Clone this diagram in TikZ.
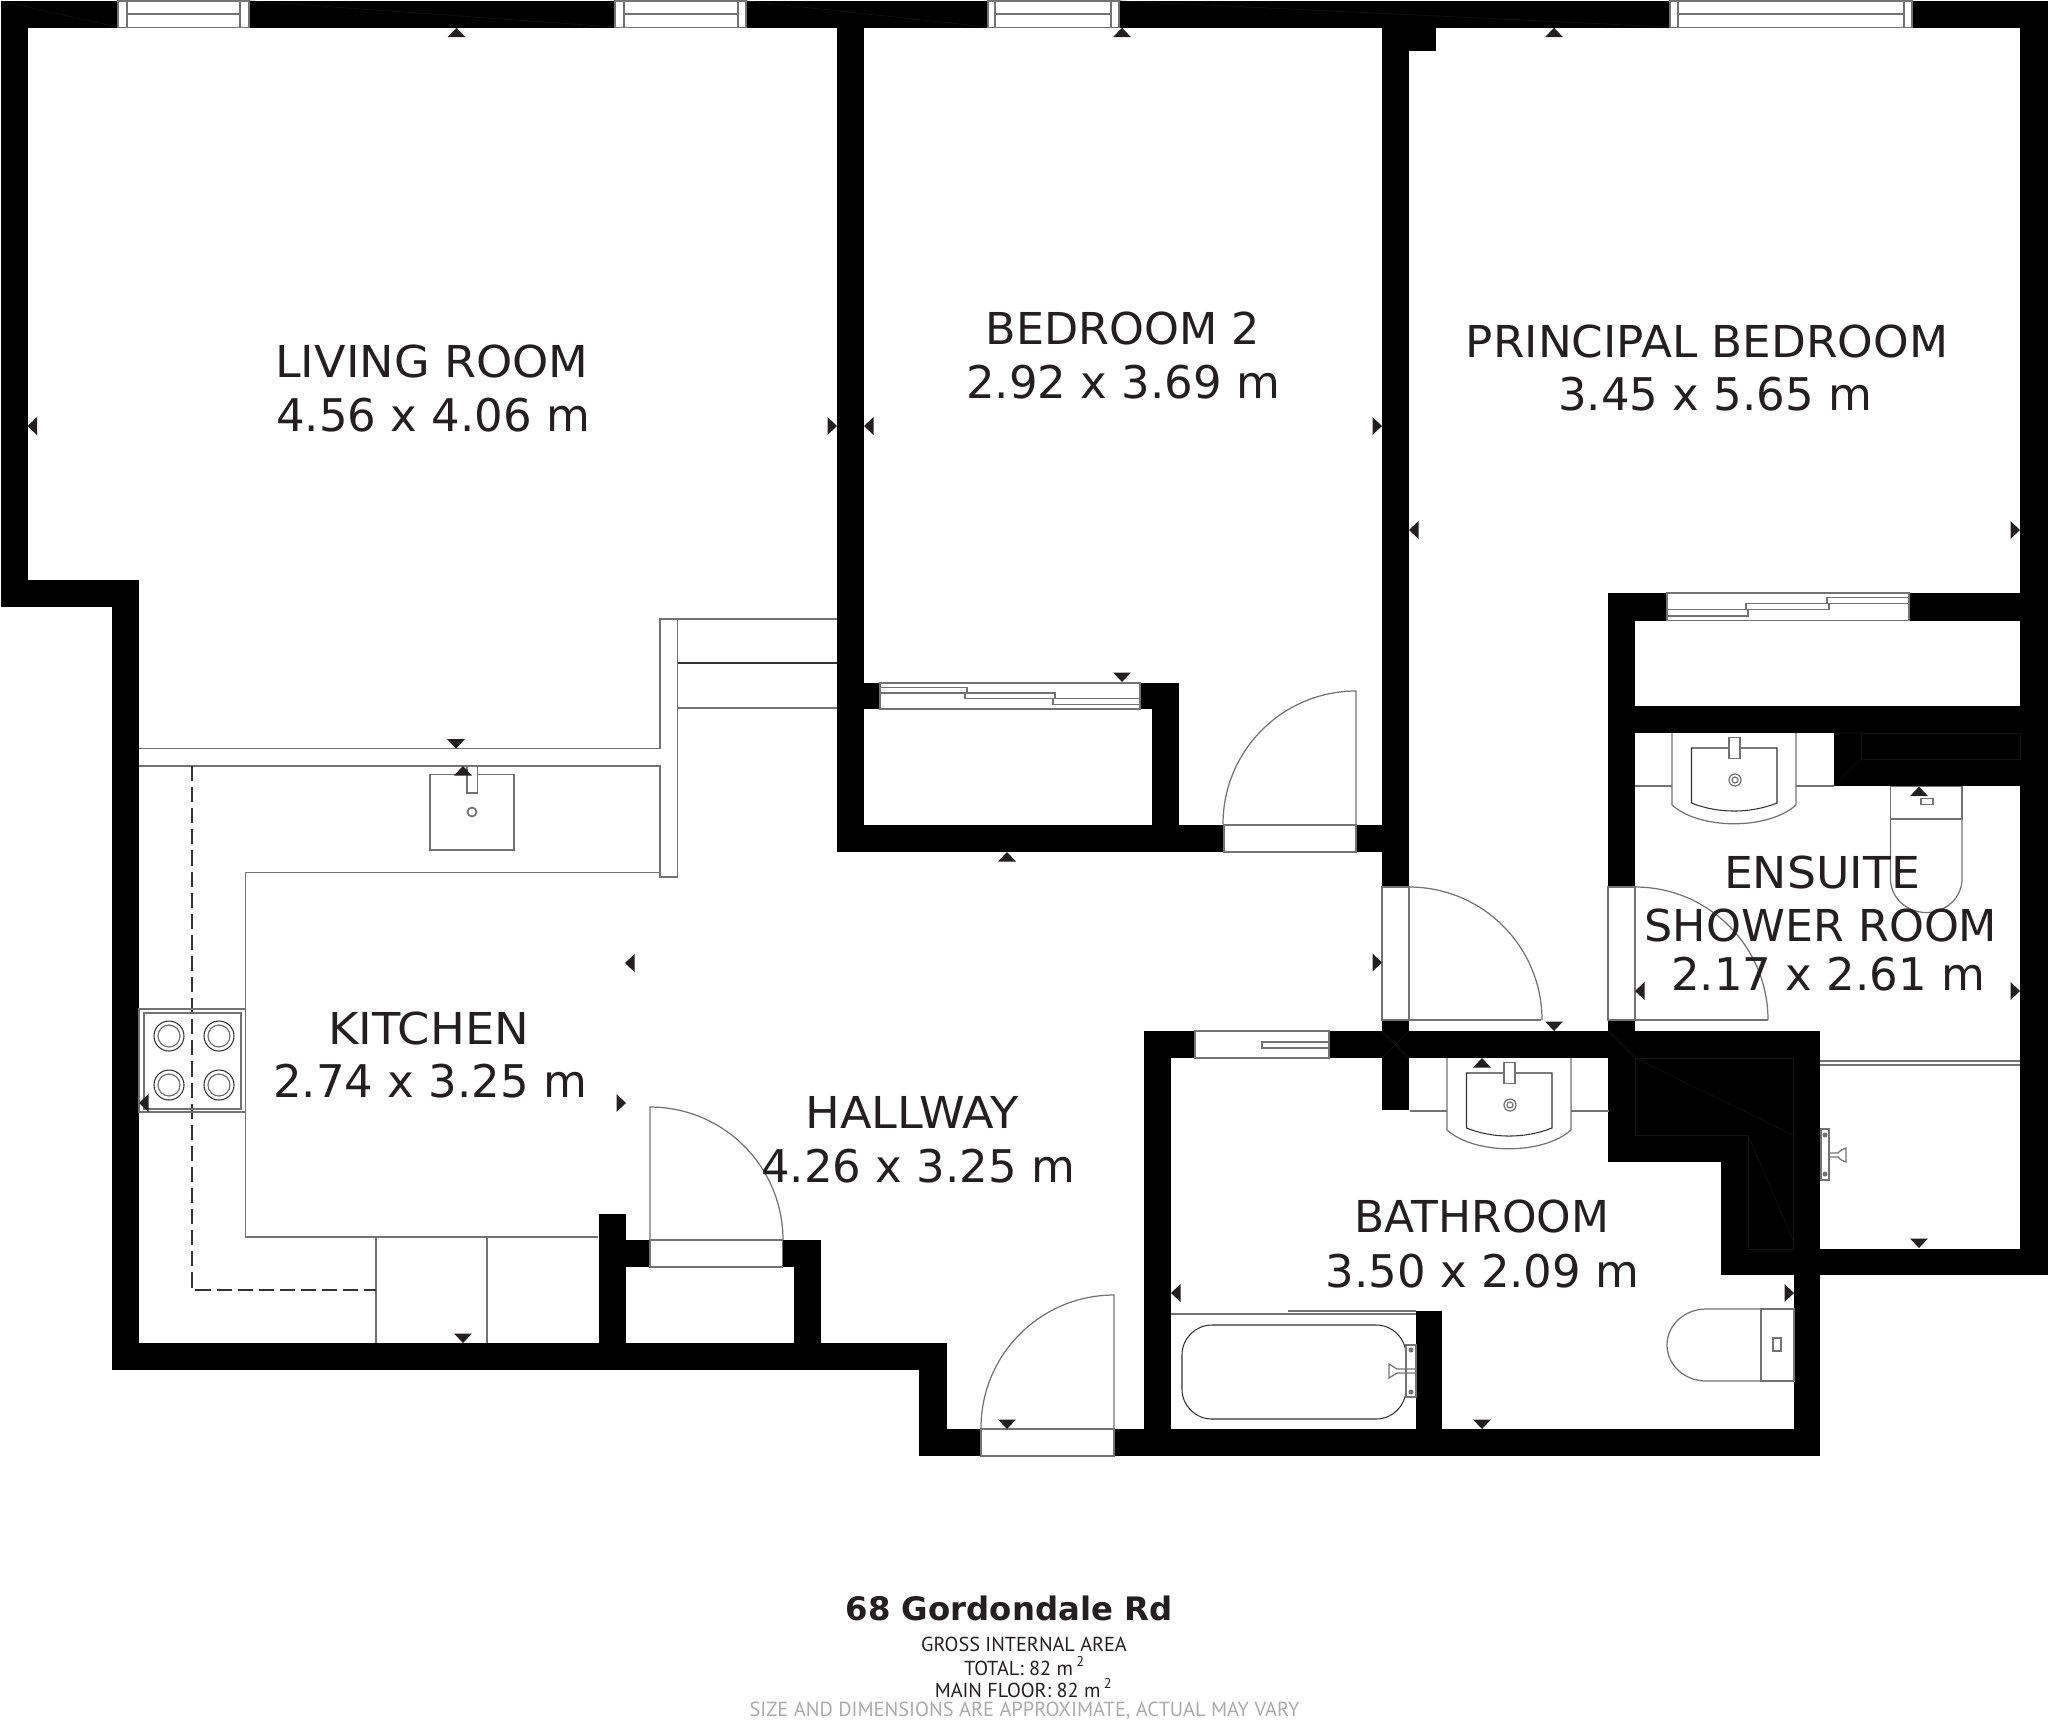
\documentclass[tikz,border=0pt]{standalone}
\usepackage{graphicx}
\usepackage{fontspec}
\setmainfont{DejaVu Sans}
\newfontfamily\notefont{PT Sans}
\definecolor{inkcol}{HTML}{231F20}
\definecolor{notecol}{HTML}{ABABAB}
\tikzset{
	wall/.style={fill=black},
	facet/.style={black!93!white, line width=0.2pt},
	fitting/.style={black!55!white, line width=0.35pt},
	fine/.style={black!80!white, line width=0.3pt},
	opening/.style={fill=white, draw=black!55!white, line width=0.35pt},
	marker/.style={fill=inkcol},
	roomtext/.style={anchor=base, inkcol, inner sep=0pt, font=\fontsize{12.5}{15}\selectfont},
	roomsize/.style={roomtext, font=\fontsize{12.8}{15}\selectfont},
	footnote/.style={anchor=base, inkcol, inner sep=0pt, font=\notefont\fontsize{5.75}{7}\selectfont}
}
\begin{document}
\begin{tikzpicture}[x=0.01cm,y=-0.01cm]
	\useasboundingbox (0,0) rectangle (2048,1720);

	% outer walls
	\fill[wall] (1,1) rectangle (2048,27.7);
	\fill[wall] (1,1) rectangle (27.5,607);
	\fill[wall] (1,580) rectangle (139,607);
	\fill[wall] (112,580) rectangle (139,1370);
	\fill[wall] (112,1343) rectangle (947,1370);
	\fill[wall] (919,1343) rectangle (947,1456);
	\fill[wall] (919,1429) rectangle (1820,1456);
	\fill[wall] (2020,1) rectangle (2048,1275);
	\fill[wall] (1820,1249) rectangle (2048,1275);

	% inner walls
	\fill[wall] (837,1) rectangle (864,852);
	\fill[wall] (837,825) rectangle (1382,852);
	\fill[wall] (864,683) rectangle (1179,709);
	\fill[wall] (1152,683) rectangle (1179,852);
	\fill[wall] (1382,1) rectangle (1409,887);
	\fill[wall] (1382,1020) rectangle (1409,1110);
	\fill[wall] (1409,27) rectangle (1436,51);
	\fill[wall] (1608,593) rectangle (2048,620.5);
	\fill[wall] (1608,593) rectangle (1635,887);
	\fill[wall] (1608,1020) rectangle (1635,1162);
	\fill[wall] (1635,706) rectangle (2020,733);
	\fill[wall] (1834,733) rectangle (2020,786);
	\fill[wall] (1144,1031) rectangle (1820,1058);
	\fill[wall] (1144,1031) rectangle (1171,1429);
	\fill[wall] (1608,1031) rectangle (1820,1162);
	\fill[wall] (1721,1031) rectangle (1820,1275);
	\fill[wall] (1794,1275) rectangle (1820,1456);
	\fill[wall] (1416,1311) rectangle (1442,1429);
	\fill[wall] (598.5,1214) rectangle (625.5,1343);
	\fill[wall] (625,1240) rectangle (650,1267);
	\fill[wall] (782,1240) rectangle (821,1267);
	\fill[wall] (794,1267) rectangle (821,1343);

	% faint seams in the black
	\draw[facet] (1635,1058) -- (1793,1058) -- (1793,1249) (1635,1058) -- (1635,1135) -- (1748,1135) -- (1748,1249) -- (1793,1249);
	\draw[facet] (1635,1058) -- (1793,1135) (1748,1135) -- (1793,1240);
	\draw[facet] (1861,733) rectangle (2020,759);
	\draw[facet] (1834,733) -- (1861,733) (1834,786) -- (1861,759);
	\draw[facet] (1382,1031) -- (1409,1058) (1409,1031) -- (1382,1058) (1608,1031) -- (1635,1058);
	\draw[facet] (1,1) -- (118,27) (250,1) -- (615,27) (746,1) -- (988,27) (1120,1) -- (1670,27);

	% windows
	\foreach \xa/\xb/\xc/\xd in {118/127/240/249, 615/624/738/746, 988/995/1111/1119, 1670/1678/1904/1912} {
		\draw[opening] (\xa,1) rectangle (\xd,27.7);
		\draw[fitting] (\xb,1) -- (\xb,27.7) (\xc,1) -- (\xc,27.7) (\xb,14) -- (\xc,14);
	}

	% sliding doors
	\draw[opening] (880,683) rectangle (1140,709);
	\draw[fitting] (880,687.3) rectangle (967,693);
	\draw[fitting] (965,693) rectangle (1055,698.7);
	\draw[fitting] (1053,698.7) rectangle (1140,704.3);
	\draw[opening] (1667,593) rectangle (1909,620.5);
	\draw[fitting] (1667,609.7) rectangle (1748,616);
	\draw[fitting] (1746,603.5) rectangle (1829,609.7);
	\draw[fitting] (1827,597.3) rectangle (1909,603.5);
	\draw[opening] (1195,1031) rectangle (1329,1058);
	\draw[fitting] (1262,1042) rectangle (1329,1048);

	% door frames and swings
	\draw[opening] (981,1429) rectangle (1114,1456);
	\draw[opening] (1224,825) rectangle (1356,852);
	\draw[opening] (650,1240) rectangle (782.7,1267);
	\draw[opening] (1382,887) rectangle (1409,1020);
	\draw[opening] (1608,887) rectangle (1635,1020);
	\draw[fitting] (1114,1429) -- (1114,1295) arc[start angle=270, end angle=180, radius=133];
	\draw[fitting] (1356,825) -- (1356,691) arc[start angle=270, end angle=180, radius=133];
	\draw[fitting] (650,1240) -- (650,1107) arc[start angle=270, end angle=360, radius=133];
	\draw[fitting] (1541,1020) -- (1409,1020);
	\draw[fitting] (1409,887) arc[start angle=270, end angle=360, radius=133];
	\draw[fitting] (1768,1020) -- (1635,1020);
	\draw[fitting] (1635,887) arc[start angle=270, end angle=360, radius=133];

	% half wall by the living room
	\draw[fitting] (837,619) -- (660,619) -- (660,748.5) -- (139,748.5);
	\draw[fitting] (139,766) -- (660,766) -- (660,877) -- (677.5,877) -- (677.5,619);
	\draw[fine] (677.5,663) -- (837,663);
	\draw[fitting] (677.5,708) -- (837,708);

	% kitchen units
	\draw[fitting] (660,872.5) -- (245.5,872.5) -- (245.5,1237) -- (598,1237);
	\draw[fitting] (376,1237) -- (376,1343) (487,1237) -- (487,1343);
	\draw[fine, dash pattern=on 4.3pt off 1.7pt] (192,766) -- (192,1290) -- (376,1290);
	\draw[fitting] (430,774.5) rectangle (514,850);
	\draw[fitting, fill=white] (467,766) rectangle (477.5,793);
	\draw[fitting, line width=0.5pt] (472,812) circle (4.5);
	\draw[fitting] (139,1009) rectangle (245.5,1112);
	\draw[fitting] (144,1013) rectangle (241,1109);
	\foreach \xa in {169,219}
		\foreach \ya in {1036,1085} {
			\draw[fine] (\xa,\ya) circle (15);
			\draw[fitting] (\xa,\ya) circle (11);
		}

	% basins
	\foreach \dx/\dy in {0/0,-225/325} {
		\begin{scope}[shift={(\dx,\dy)}]
			\draw[fitting] (1635,786) -- (1672,786) (1796,786) -- (1834,786);
			\draw[fitting] (1672,733) -- (1672,805) .. controls (1700,830) and (1768,830) .. (1796,805) -- (1796,733);
			\draw[fine] (1691.5,748) -- (1777,748) -- (1777,803) .. controls (1750,813.7) and (1718,813.7) .. (1691.5,803) -- cycle;
			\draw[fitting, fill=white] (1729,737.5) rectangle (1740,758.5);
			\draw[fitting] (1735,780) circle (6);
			\draw[fitting] (1735,780) circle (3);
		\end{scope}
	}

	% toilets
	\draw[fitting] (1890.5,786.6) rectangle (1962,819);
	\draw[fitting] (1921,798.6) rectangle (1933,804.5);
	\draw[fitting] (1890.5,819) -- (1890.5,879) arc[start angle=180, end angle=0, x radius=35.75, y radius=33.5] -- (1962,819);
	\draw[fitting] (1761,1309) rectangle (1794,1381);
	\draw[fitting] (1773,1338) rectangle (1781,1351);
	\draw[fitting] (1761,1309) -- (1706,1309) arc[start angle=270, end angle=90, x radius=39, y radius=36] -- (1761,1381);

	% bath and shower
	\draw[fitting] (1171,1314) -- (1416,1314) (1288,1311) -- (1416,1311);
	\draw[fine, rounded corners=8.5pt] (1182,1325) rectangle (1406,1419);
	\draw[fitting] (1406,1345) rectangle (1416,1397);
	\fill[fitting] (1411,1350) circle (2.5) (1411,1392) circle (2.5);
	\draw[fitting] (1416,1369) -- (1397,1369) .. controls (1393,1367) .. (1389,1364) -- (1389,1378) .. controls (1393,1375) .. (1397,1373) -- (1416,1373);
	\draw[fitting] (1820,1061) -- (2020,1061) (1820,1065) -- (2020,1065);
	\draw[fitting] (1821,1129) rectangle (1829,1180);
	\fill[fitting] (1825,1135) circle (2.5) (1825,1174) circle (2.5);
	\draw[fitting] (1829,1153) -- (1838,1153) .. controls (1841,1150) .. (1846,1148) -- (1846,1162) .. controls (1841,1160) .. (1838,1157) -- (1829,1157);

	% measuring marks
	\foreach \xa/\ya/\ang in {
		456.5/27.7/0, 1122/27.7/0, 1554/27.7/0, 463/766/0, 1007/852/0, 1482/1058/0, 1919/786.6/0,
		1122/682/180, 456/748.5/180, 463/1343/180, 1007/1429/180, 1554/1031/180, 1482/1429/180, 1919/1248/180,
		27.5/426/90, 864/426/90, 1409/530/90, 625/963/90, 139/1103/90, 1171/1293/90, 1635/991/90,
		837/426/-90, 1382/426/-90, 2020/530/-90, 626/1103/-90, 1382/962.5/-90, 1794/1293/-90, 2020/991/-90}
		\fill[marker, shift={(\xa,\ya)}, rotate=\ang] (0,0) -- (-9,9.5) -- (9,9.5) -- cycle;

	% room names
	\node[roomtext] (livingname) at (432,377) {\scalebox{1.048}[1]{LIVING ROOM}};
	\node[roomsize] (livingsize) at (433,431) {4.56 x 4.06 m};
	\node[roomtext] (bedtwoname) at (1123,344) {\scalebox{1.01}[1]{BEDROOM 2}};
	\node[roomsize] (bedtwosize) at (1123,398.5) {2.92 x 3.69 m};
	\node[roomtext] (bedonename) at (1707,357) {\scalebox{1.03}[1]{PRINCIPAL BEDROOM}};
	\node[roomsize] (bedonesize) at (1715,410) {3.45 x 5.65 m};
	\node[roomtext] (kitchenname) at (428.6,1044) {\scalebox{1.055}[1]{KITCHEN}};
	\node[roomsize] (kitchensize) at (430,1097.5) {2.74 x 3.25 m};
	\node[roomtext] (hallname) at (912,1128) {\scalebox{1.05}[1]{HALLWAY}};
	\node[roomsize] (hallsize) at (918,1182.5) {4.26 x 3.25 m};
	\node[roomtext] (bathname) at (1482,1232) {BATHROOM};
	\node[roomsize] (bathsize) at (1482.5,1287) {3.50 x 2.09 m};
	\node[roomtext] (ensuitename) at (1822,888) {\scalebox{1.04}[1]{ENSUITE}};
	\node[roomtext] (showername) at (1821,941.5) {\scalebox{1.01}[1]{SHOWER ROOM}};
	\node[roomsize] (ensuitesize) at (1828,990) {2.17 x 2.61 m};

	% footer
	\node[roomtext, font=\bfseries\fontsize{9.2}{11}\selectfont] (address) at (1009,1620.7) {68 Gordondale Rd};
	\node[footnote] (grossarea) at (1024,1651.7) {GROSS INTERNAL AREA};
	\node[footnote] (totalarea) at (1025,1675) {TOTAL: 82 m\,\textsuperscript{2}};
	\node[footnote] (floorarea) at (1024,1697) {MAIN FLOOR: 82 m\,\textsuperscript{2}};
	\node[footnote, notecol, font=\notefont\fontsize{5.8}{7}\selectfont] (disclaimer) at (1024.5,1716) {SIZE AND DIMENSIONS ARE APPROXIMATE, ACTUAL MAY VARY};
\end{tikzpicture}
\end{document}
